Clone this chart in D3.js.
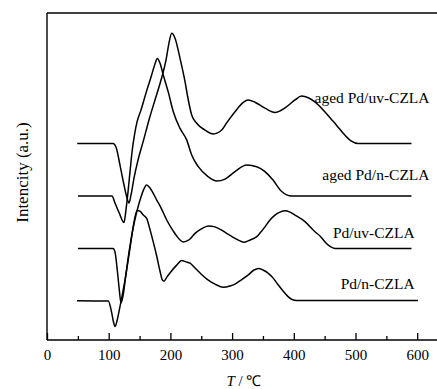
<!DOCTYPE html>
<html>
<head>
<meta charset="utf-8">
<script src="https://cdn.jsdelivr.net/npm/d3@7"></script>
<style>
  html, body { margin: 0; padding: 0; background: #fff; }
  svg { display: block; }
  text { font-family: "Liberation Serif", "Times New Roman", serif; fill: #000; }
</style>
</head>
<body>
<svg id="chart" width="437" height="389"></svg>
<script>
// ---- data (T in °C, intensity in a.u.) ----
const seriesNames = ["aged Pd/uv-CZLA", "aged Pd/n-CZLA", "Pd/uv-CZLA", "Pd/n-CZLA"];

const agedUvT = [49,107,111.8,118.3,124.8,129.7,132.9,136.1,141,147.5,155.6,165.3,175,184.8,192.9,197.7,202.1,207.5,215.6,223.7,229,234.5,242.6,256.1,269.5,283.1,291.2,304.7,318.1,326.2,337.1,353.3,369.5,385.7,401.9,412.5,423.5,434.3,450.6,460.3,469.2,479.7,492.7,504,590.7];
const agedUvI = [60.1,60.1,59.0,53.5,47.4,43.4,41.9,44.3,49.5,55.0,60.5,67.3,73.4,79.5,85.6,90.8,93.8,92.3,86.1,79.0,73.4,68.8,66.3,64.2,63.0,64.2,66.4,69.8,72.7,73.4,72.7,70.9,69.6,71.0,73.4,74.6,74.1,72.8,69.7,67.6,65.7,63.3,60.9,60.1,60.1];

const agedNT = [50.2,105.3,110.2,117.2,124.8,128,131.3,134.5,137.8,141.8,145.9,152.3,160.4,168.6,175,178.8,183.1,188.5,196.6,204.7,215.6,226.4,234.5,245.2,261.4,275,288.5,304.7,323.7,339.9,353.3,366.3,380.4,396.6,590.7];
const agedNI = [44.0,44.0,41.9,38.8,35.9,39.8,45.3,51.4,57.5,62.7,66.7,70.3,75.5,80.4,84.4,86.1,84.7,81.0,75.8,69.8,64.7,61.2,56.6,53.0,49.9,48.6,49.2,51.5,53.5,53.0,51.5,48.9,45.4,44.0,44.0];

const uvT = [50.2,107,110.2,113.9,117.2,119.9,123.2,127.2,131.8,136.1,139.9,144.2,148,152.3,156.4,161.6,166.9,177.8,184.8,194,204.7,210.2,220.9,226.9,231.8,239.9,249.6,261.4,272.3,283.1,293.3,304.7,312.8,319.8,325.8,331.8,339.9,345.2,353.3,361.4,369.5,377.6,386.5,393.8,401.9,418.1,434.3,442.5,450.6,458.7,466.8,590.7];
const uvI = [28.0,28.0,26.9,21.4,15.3,11.3,13.5,19.0,25.4,30.6,34.6,38.2,41.0,43.7,45.9,47.4,46.5,42.8,40.4,36.7,33.3,31.8,30.0,30.3,30.9,32.6,33.9,34.9,34.6,33.6,32.4,31.1,30.3,29.9,30.3,30.8,31.6,32.7,34.6,36.7,38.2,39.1,39.5,39.1,38.2,36.2,33.1,31.8,30.0,28.6,28.0,28.0];

const nT = [48.6,99.3,104.9,107.8,110.2,113.4,118.3,126.4,134.5,139.4,142.6,146.3,150.7,156.1,161.6,165.3,169.7,177.8,183.1,187.2,189.6,194.5,199.3,210.2,218.3,225.3,231.8,239.9,249.6,261.4,272.3,285.7,296.6,304.7,314.4,326.2,335.5,342.5,350.1,358.7,366.3,374.9,382.5,391.1,397.1,404.7,601.3];
const nI = [12.0,11.9,8.3,5.5,4.1,5.8,10.2,18.3,28.1,34.2,37.6,39.6,39.4,38.2,37.2,34.9,31.8,25.7,21.1,18.3,18.0,19.3,20.5,22.9,24.3,23.9,23.5,22.0,20.2,18.3,17.1,16.1,16.5,17.1,18.3,19.9,21.4,21.9,21.4,20.4,19.0,16.8,15.0,13.2,12.4,12.1,12.1];

const xTickMajor = [0, 100, 200, 300, 400, 500, 600];
const xTickMinor = [50, 150, 250, 350, 450, 550, 650];
const xTitle = "T";
const xUnit = " / ℃";
const yTitle = "Intencity (a.u.)";

// ---- drawing ----
const svg = d3.select("#chart");
const W = 437, H = 389;
const mLeft = 47, mTop = 13, mBottom = 340;

const x = d3.scaleLinear().domain([0, 600]).range([mLeft, 417.2]);
const y = d3.scaleLinear().domain([0, 100]).range([mBottom, mTop]);

// frame: top and left lines
svg.append("line").attr("x1", mLeft).attr("x2", W + 5).attr("y1", mTop).attr("y2", mTop)
  .attr("stroke", "#000").attr("stroke-width", 1.4);
svg.append("line").attr("x1", mLeft).attr("x2", mLeft).attr("y1", mTop).attr("y2", mBottom)
  .attr("stroke", "#000").attr("stroke-width", 1.4);

// x axis (ticks pointing inward)
const gx = svg.append("g").attr("transform", `translate(0,${mBottom})`);
gx.call(d3.axisBottom(x).tickValues(xTickMajor).tickSize(-7).tickPadding(9).tickFormat(d3.format("d")));
const gxm = svg.append("g").attr("transform", `translate(0,${mBottom})`);
gxm.call(d3.axisBottom(x).tickValues(xTickMinor).tickSize(-4).tickFormat(""));
[gx, gxm].forEach(g => {
  g.select(".domain").remove();
  g.selectAll(".tick line").attr("stroke", "#000").attr("stroke-width", 1.3);
});
gx.selectAll(".tick text").attr("font-size", 15).attr("font-family", "Liberation Serif, serif").attr("fill", "#000");
svg.append("line").attr("x1", mLeft).attr("x2", W + 5).attr("y1", mBottom).attr("y2", mBottom)
  .attr("stroke", "#000").attr("stroke-width", 1.4);

// curves
const line = d3.line().x(d => x(d[0])).y(d => y(d[1])).curve(d3.curveMonotoneX);
const series = [
  { name: seriesNames[0], T: agedUvT, I: agedUvI, lx: 620, ly: 72.5 },
  { name: seriesNames[1], T: agedNT, I: agedNI, lx: 620, ly: 48.8 },
  { name: seriesNames[2], T: uvT, I: uvI, lx: 596, ly: 31.2 },
  { name: seriesNames[3], T: nT, I: nI, lx: 596, ly: 15.6 }
];
series.forEach(s => {
  const pts = s.T.map((t, i) => [t, s.I[i]]);
  svg.append("path").datum(pts).attr("d", line)
    .attr("fill", "none").attr("stroke", "#000").attr("stroke-width", 1.5)
    .attr("stroke-linejoin", "round");
  svg.append("text").attr("x", x(s.lx)).attr("y", y(s.ly))
    .attr("text-anchor", "end").attr("font-size", 15.5).text(s.name);
});

// axis titles
const xt = svg.append("text").attr("x", 244).attr("y", 386).attr("text-anchor", "middle").attr("font-size", 15);
xt.append("tspan").attr("font-style", "italic").text(xTitle);
xt.append("tspan").text(xUnit);

svg.append("text").attr("transform", `translate(28,${(mTop + mBottom) / 2 - 4}) rotate(-90)`)
  .attr("text-anchor", "middle").attr("font-size", 17).text(yTitle);
</script>
</body>
</html>
